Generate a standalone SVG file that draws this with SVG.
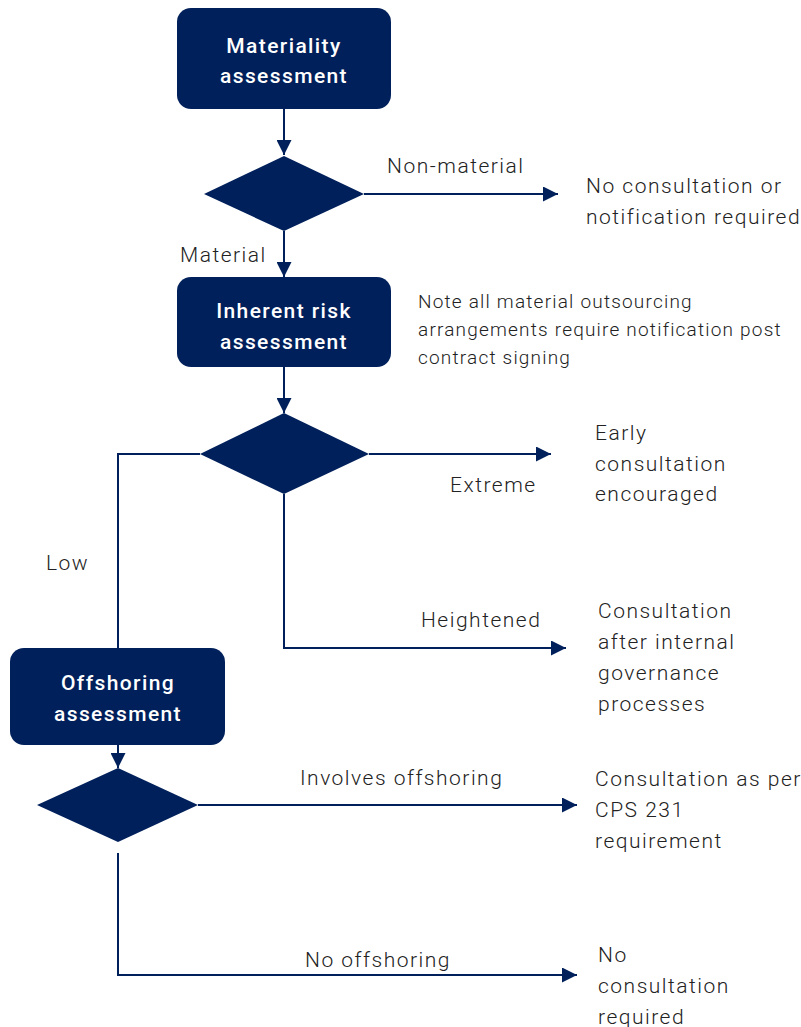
<svg xmlns="http://www.w3.org/2000/svg" width="801" height="1027" viewBox="0 0 801 1027">
  <style>
    .box { fill: #00205b; }
    .dia { fill: #00205b; }
    .box-text { font-family: Roboto, "Liberation Sans", sans-serif; font-size: 21px; font-weight: 500; fill: #ffffff; text-anchor: middle; letter-spacing: 1.4px; }
    .lbl { font-family: Roboto, "Liberation Sans", sans-serif; font-size: 21px; font-weight: 300; fill: #222222; letter-spacing: 1.5px; }
    .note { font-family: Roboto, "Liberation Sans", sans-serif; font-size: 19px; font-weight: 300; fill: #222222; letter-spacing: 1.2px; }
    .conn { fill: none; stroke: #00205b; stroke-width: 2; }
  </style>
  <defs>
    <marker id="arrow" viewBox="0 0 15 15" refX="15" refY="7.5" markerWidth="15" markerHeight="15" markerUnits="userSpaceOnUse" orient="auto">
      <path d="M0,0 L15,7.5 L0,15 Z" fill="#00205b"/>
    </marker>
  </defs>

  <!-- connectors -->
  <g id="connectors">
    <path class="conn" d="M284,109 V155" marker-end="url(#arrow)"/>
    <path class="conn" d="M364,194 H558" marker-end="url(#arrow)"/>
    <path class="conn" d="M284,231 V277" marker-end="url(#arrow)"/>
    <path class="conn" d="M284,367 V413" marker-end="url(#arrow)"/>
    <path class="conn" d="M369,454 H551" marker-end="url(#arrow)"/>
    <path class="conn" d="M200,454 H118 V648"/>
    <path class="conn" d="M284,494 V648 H566" marker-end="url(#arrow)"/>
    <path class="conn" d="M118,745 V768" marker-end="url(#arrow)"/>
    <path class="conn" d="M198,805 H577" marker-end="url(#arrow)"/>
    <path class="conn" d="M118,853 V975 H577" marker-end="url(#arrow)"/>
  </g>

  <!-- process boxes -->
  <g id="materiality-assessment">
    <rect class="box" x="177" y="8" width="214" height="101" rx="14"/>
    <text class="box-text" x="284" y="53">Materiality</text>
    <text class="box-text" x="284" y="83">assessment</text>
  </g>
  <g id="inherent-risk-assessment">
    <rect class="box" x="177" y="277" width="214" height="90" rx="14"/>
    <text class="box-text" x="284" y="318">Inherent risk</text>
    <text class="box-text" x="284" y="349">assessment</text>
  </g>
  <g id="offshoring-assessment">
    <rect class="box" x="10" y="648" width="215" height="97" rx="14"/>
    <text class="box-text" x="118" y="690">Offshoring</text>
    <text class="box-text" x="118" y="721">assessment</text>
  </g>

  <!-- decisions -->
  <g id="decision-materiality">
    <polygon class="dia" points="284,156 364,194 284,231 204,194"/>
  </g>
  <g id="decision-risk">
    <polygon class="dia" points="284,413 369,454 284,494 200,454"/>
  </g>
  <g id="decision-offshoring">
    <polygon class="dia" points="118,768 198,805 118,842 37,805"/>
  </g>

  <!-- branch labels -->
  <g id="labels">
    <text class="lbl" x="387" y="173">Non-material</text>
    <text class="lbl" x="180" y="262">Material</text>
    <text class="lbl" x="450" y="492">Extreme</text>
    <text class="lbl" x="46" y="570">Low</text>
    <text class="lbl" x="421" y="627">Heightened</text>
    <text class="lbl" x="300" y="785">Involves offshoring</text>
    <text class="lbl" x="305" y="967">No offshoring</text>
  </g>

  <!-- outcomes -->
  <g id="outcome-no-consultation-notification">
    <text class="lbl" x="586" y="193">No consultation or</text>
    <text class="lbl" x="586" y="224">notification required</text>
  </g>
  <g id="note-notification">
    <text class="note" x="418" y="308">Note all material outsourcing</text>
    <text class="note" x="418" y="336">arrangements require notification post</text>
    <text class="note" x="418" y="364">contract signing</text>
  </g>
  <g id="outcome-early-consultation">
    <text class="lbl" x="595" y="440">Early</text>
    <text class="lbl" x="595" y="471">consultation</text>
    <text class="lbl" x="595" y="501">encouraged</text>
  </g>
  <g id="outcome-consultation-after-governance">
    <text class="lbl" x="598" y="618">Consultation</text>
    <text class="lbl" x="598" y="649">after internal</text>
    <text class="lbl" x="598" y="680">governance</text>
    <text class="lbl" x="598" y="711">processes</text>
  </g>
  <g id="outcome-cps231">
    <text class="lbl" x="595" y="786">Consultation as per</text>
    <text class="lbl" x="595" y="817">CPS 231</text>
    <text class="lbl" x="595" y="848">requirement</text>
  </g>
  <g id="outcome-no-consultation">
    <text class="lbl" x="598" y="962">No</text>
    <text class="lbl" x="598" y="993">consultation</text>
    <text class="lbl" x="598" y="1024">required</text>
  </g>
</svg>
